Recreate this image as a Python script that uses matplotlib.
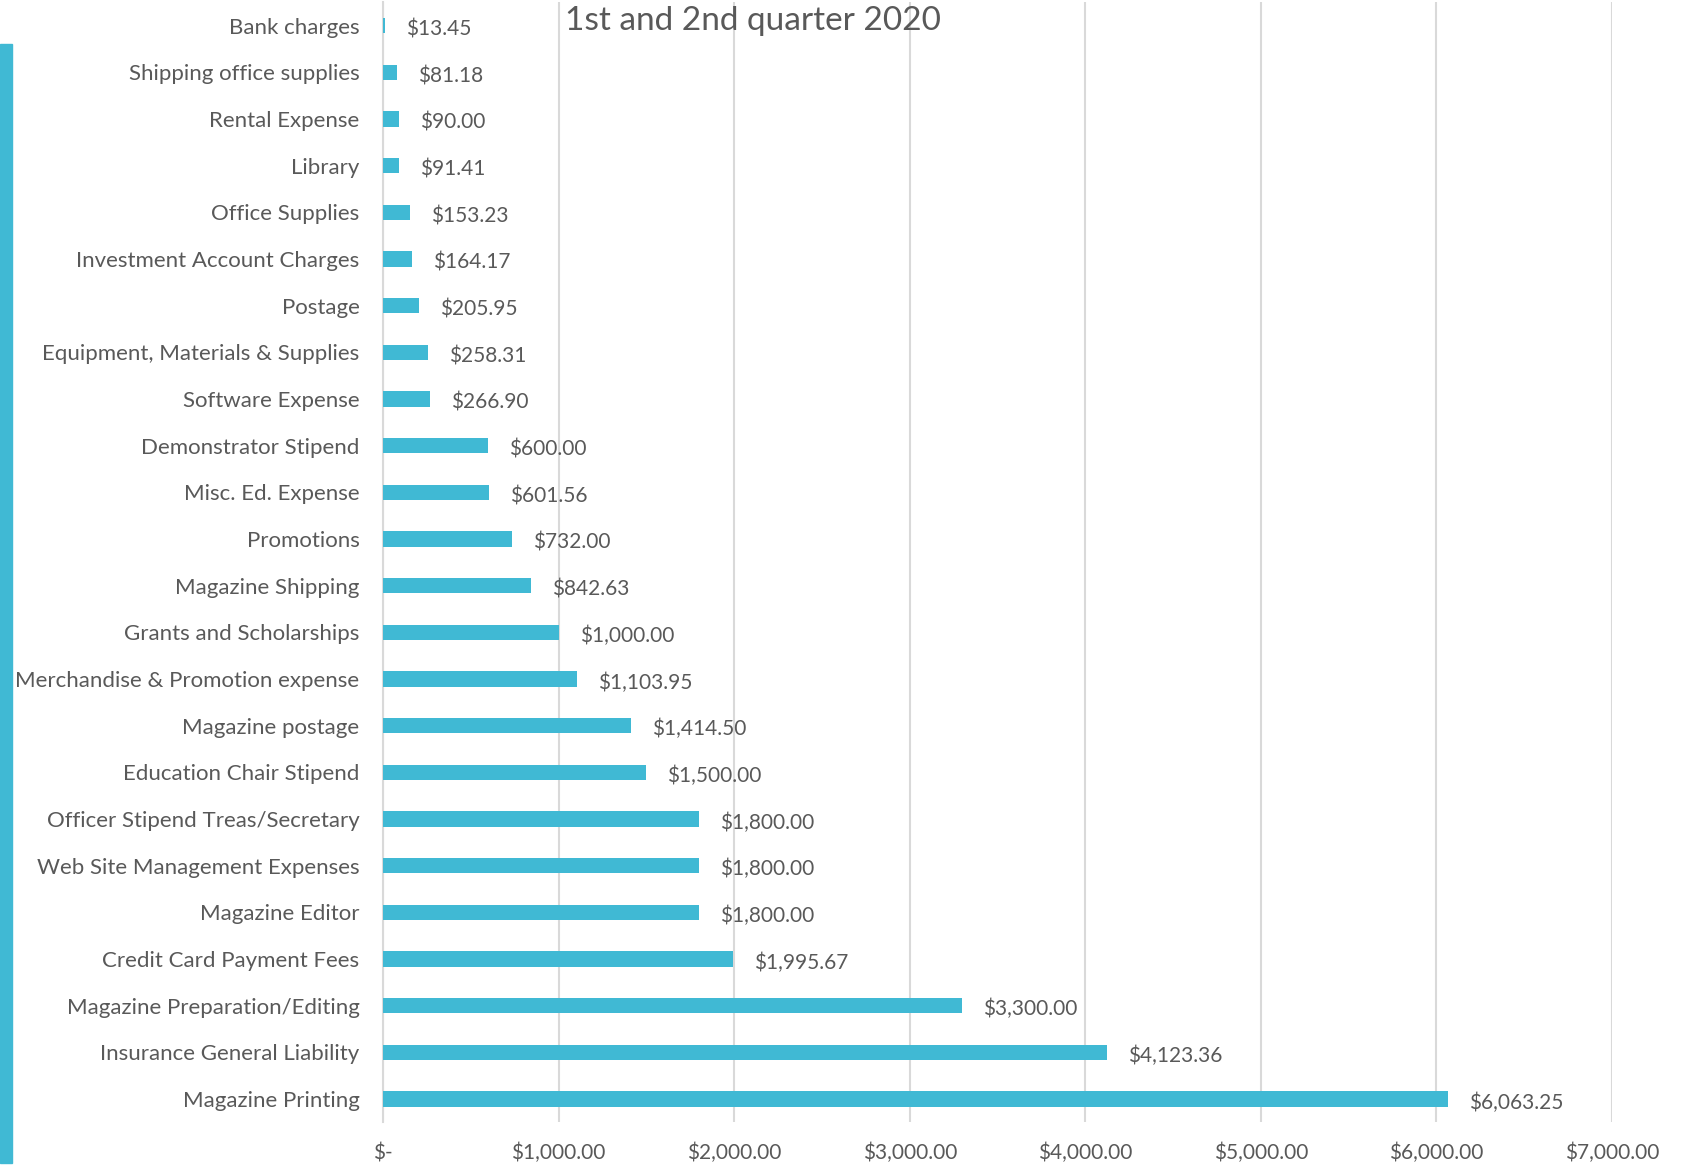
import matplotlib.pyplot as plt
from matplotlib.patches import Rectangle
from matplotlib.ticker import FuncFormatter

plt.rcParams['font.family'] = ['Lato', 'DejaVu Sans']

categories = [
    'Bank charges', 'Shipping office supplies', 'Rental Expense', 'Library',
    'Office Supplies', 'Investment Account Charges', 'Postage',
    'Equipment, Materials & Supplies', 'Software Expense',
    'Demonstrator Stipend', 'Misc. Ed. Expense', 'Promotions',
    'Magazine Shipping', 'Grants and Scholarships',
    'Merchandise & Promotion expense', 'Magazine postage',
    'Education Chair Stipend', 'Officer Stipend Treas/Secretary',
    'Web Site Management Expenses', 'Magazine Editor',
    'Credit Card Payment Fees', 'Magazine Preparation/Editing',
    'Insurance General Liability', 'Magazine Printing',
]
amounts = [
    13.45, 81.18, 90.00, 91.41, 153.23, 164.17, 205.95, 258.31, 266.90,
    600.00, 601.56, 732.00, 842.63, 1000.00, 1103.95, 1414.50, 1500.00,
    1800.00, 1800.00, 1800.00, 1995.67, 3300.00, 4123.36, 6063.25,
]
x_ticks = [0, 1000, 2000, 3000, 4000, 5000, 6000, 7000]

bar_color = '#40B9D4'
text_color = '#595959'
grid_color = '#D9D9D9'

fig = plt.figure(figsize=(16.91, 11.69), dpi=100)
ax = fig.add_axes([0.2265, 0.040, 0.7268, 0.958])

pos = list(range(len(categories)))
ax.barh(pos, amounts, height=0.33, color=bar_color, zorder=3)

for p, v in zip(pos, amounts):
    ax.text(v + 120, p + 0.08, '${:,.2f}'.format(v), va='center', ha='left',
            fontsize=15, color=text_color, zorder=4)

ax.set_ylim(len(categories) - 0.5, -0.5)
ax.set_xlim(0, 7000)
ax.set_yticks(pos)
ax.set_yticklabels(categories)
ax.set_xticks(x_ticks)


def money(v, _):
    if v == 0:
        return '$-'
    return '${:,.2f}'.format(v)


ax.xaxis.set_major_formatter(FuncFormatter(money))
ax.tick_params(axis='y', length=0, pad=17, labelsize=16, labelcolor=text_color)
ax.tick_params(axis='x', length=0, pad=15, labelsize=15, labelcolor=text_color)

ax.grid(axis='x', color=grid_color, linewidth=1.5, zorder=0)
for s in ['top', 'right', 'bottom']:
    ax.spines[s].set_visible(False)
ax.spines['left'].set_color(grid_color)
ax.spines['left'].set_linewidth(1.5)

fig.text(0.445, 0.982, '1st and 2nd quarter 2020', ha='center', va='center',
         fontsize=24, color=text_color)

# cyan accent strip on the left edge
fig.patches.append(Rectangle((0, 0.005), 0.0071, 0.9575, transform=fig.transFigure,
                             color=bar_color, zorder=0))

plt.savefig('out.png', dpi=100)
